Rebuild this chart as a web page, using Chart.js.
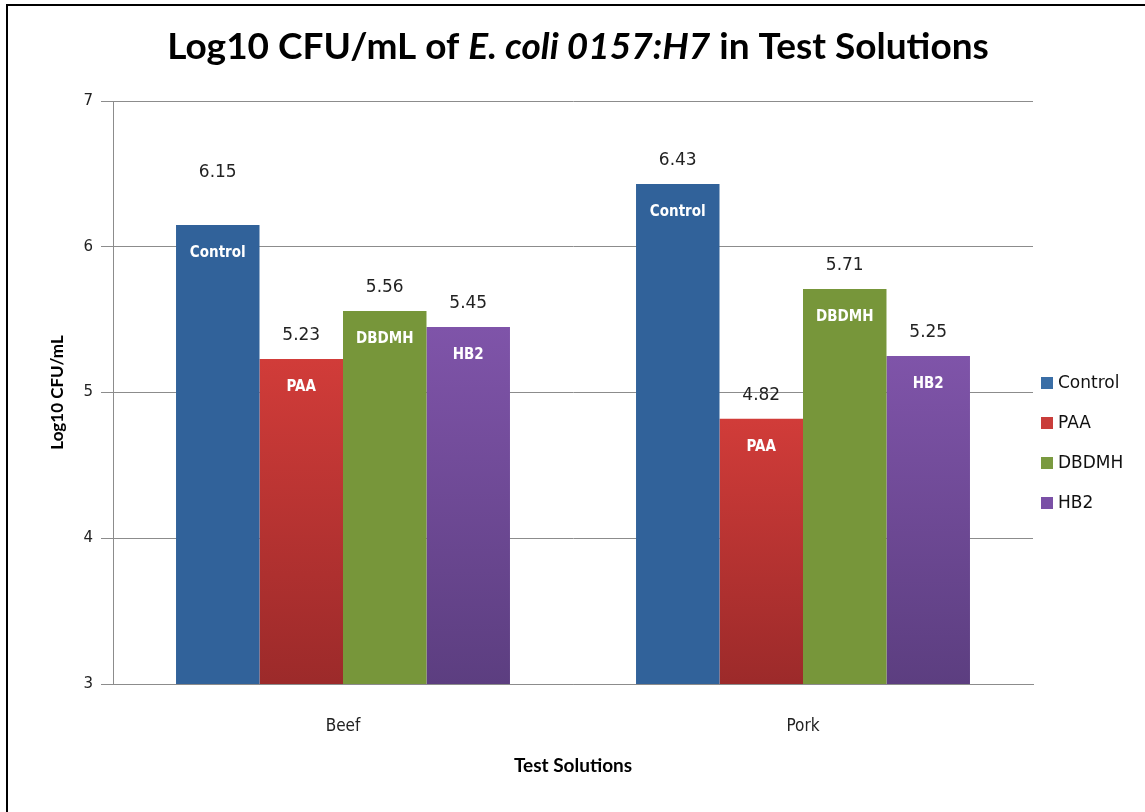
<!DOCTYPE html>
<html>
<head>
<meta charset="utf-8">
<script src="https://cdn.jsdelivr.net/npm/chart.js@4.4.0/dist/chart.umd.min.js"></script>
<style>
  html, body { margin: 0; padding: 0; background: #fff; }
  #wrap { position: relative; width: 1145px; height: 812px; }
</style>
</head>
<body>
<div id="wrap"><canvas id="chart"></canvas></div>
<script>
const categories = ['Beef', 'Pork'];
const seriesNames = ['Control', 'PAA', 'DBDMH', 'HB2'];
const controlValues = [6.15, 6.43];
const paaValues = [5.23, 4.82];
const dbdmhValues = [5.56, 5.71];
const hb2Values = [5.45, 5.25];
const yTicks = [3, 4, 5, 6, 7];

// top and bottom colour of each series' bars
const seriesColors = [
    ['#31629a', '#31629a'],
    ['#d13c39', '#9c2a2a'],
    ['#77963a', '#77963a'],
    ['#7f54a9', '#5c3e80']
];
const legendColors = ['#3a6ea6', '#c93d3a', '#7a9a40', '#7a50a6'];

const seriesValues = [controlValues, paaValues, dbdmhValues, hb2Values];

// vertical gradient from the top of each bar down to the axis
function barFill(i) {
    return function (ctx) {
        const chart = ctx.chart;
        const [top, bottom] = seriesColors[i];
        if (!chart.chartArea || ctx.raw == null) return top;
        const y = chart.scales.y;
        const g = chart.ctx.createLinearGradient(0, y.getPixelForValue(ctx.raw), 0, y.getPixelForValue(y.min));
        g.addColorStop(0, top);
        g.addColorStop(1, bottom);
        return g;
    };
}

const framePlugin = {
    id: 'frame',
    beforeDraw(chart) {
        const ctx = chart.ctx;
        ctx.save();
        ctx.fillStyle = '#fff';
        ctx.fillRect(0, 0, chart.width, chart.height);
        ctx.strokeStyle = '#000';
        ctx.lineWidth = 2;
        ctx.beginPath();
        ctx.moveTo(7, chart.height);
        ctx.lineTo(7, 5);
        ctx.lineTo(chart.width, 5);
        ctx.stroke();
        ctx.restore();
    },
    afterDraw(chart) {
        const ctx = chart.ctx;
        ctx.save();
        // title with an italic middle part
        const parts = [
            ['bold 37px Lato', 'Log10 CFU/mL of '],
            ['italic bold 37px Lato', 'E. coli 0157:H7'],
            ['bold 37px Lato', ' in Test Solutions']
        ];
        let total = 0;
        parts.forEach(p => { ctx.font = p[0]; total += ctx.measureText(p[1]).width; });
        let x = 578 - total / 2;
        ctx.fillStyle = '#000';
        ctx.textBaseline = 'middle';
        parts.forEach(p => {
            ctx.font = p[0];
            ctx.fillText(p[1], x, 47);
            x += ctx.measureText(p[1]).width;
        });

        // legend
        ctx.font = '17px "DejaVu Sans"';
        seriesNames.forEach((name, i) => {
            const y = 383 + i * 40;
            ctx.fillStyle = legendColors[i];
            ctx.fillRect(1041, y - 6, 12, 12);
            ctx.fillStyle = '#111';
            ctx.fillText(name, 1058, y + 1);
        });
        ctx.restore();
    }
};

const barLabelPlugin = {
    id: 'barLabels',
    afterDatasetsDraw(chart, args, opts) {
        const ctx = chart.ctx;
        ctx.save();
        ctx.textAlign = 'center';
        ctx.textBaseline = 'middle';
        chart.data.datasets.forEach((ds, i) => {
            chart.getDatasetMeta(i).data.forEach((bar, j) => {
                const lift = (opts.extraLift[i + '-' + j] || 0);
                ctx.font = '17px "DejaVu Sans"';
                ctx.fillStyle = '#222';
                ctx.fillText(ds.data[j].toFixed(2), bar.x, bar.y - 23 - lift);
                ctx.font = 'bold 15px "DejaVu Sans Condensed"';
                ctx.fillStyle = '#fff';
                ctx.fillText(ds.label, bar.x, bar.y + 28);
            });
        });
        ctx.restore();
    }
};

new Chart(document.getElementById('chart'), {
    type: 'bar',
    data: {
        labels: categories,
        datasets: seriesNames.map((name, i) => ({
            label: name,
            data: seriesValues[i],
            backgroundColor: barFill(i),
            borderWidth: 0,
            categoryPercentage: 0.726,
            barPercentage: 1
        }))
    },
    options: {
        responsive: true,
        maintainAspectRatio: false,
        animation: false,
        layout: { padding: { top: 101, right: 112, bottom: 0, left: 0 } },
        plugins: {
            legend: { display: false },
            title: { display: false },
            tooltip: { enabled: false },
            barLabels: { extraLift: { '0-0': 29 } }
        },
        scales: {
            y: {
                min: 3,
                max: 7,
                afterFit: s => { s.width = 113; },
                afterBuildTicks: s => { s.ticks = yTicks.map(v => ({ value: v })); },
                grid: { color: '#8c8c8c', tickLength: 12 },
                border: { color: '#8c8c8c' },
                ticks: { padding: 8, color: '#222', font: { family: 'DejaVu Sans', size: 15 } },
                title: {
                    display: true,
                    text: 'Log10 CFU/mL',
                    color: '#000',
                    font: { family: 'Lato', size: 17, weight: 'bold' },
                    padding: { top: 47, bottom: 0 }
                }
            },
            x: {
                afterFit: s => { s.height = 128; },
                grid: { display: false },
                border: { color: '#8c8c8c' },
                ticks: { padding: 24, color: '#222', font: { family: 'DejaVu Sans Condensed', size: 17 } },
                title: {
                    display: true,
                    text: 'Test Solutions',
                    color: '#000',
                    font: { family: 'Lato', size: 19, weight: 'bold' },
                    padding: { top: 0, bottom: 35 }
                }
            }
        }
    },
    plugins: [framePlugin, barLabelPlugin]
});
</script>
</body>
</html>
